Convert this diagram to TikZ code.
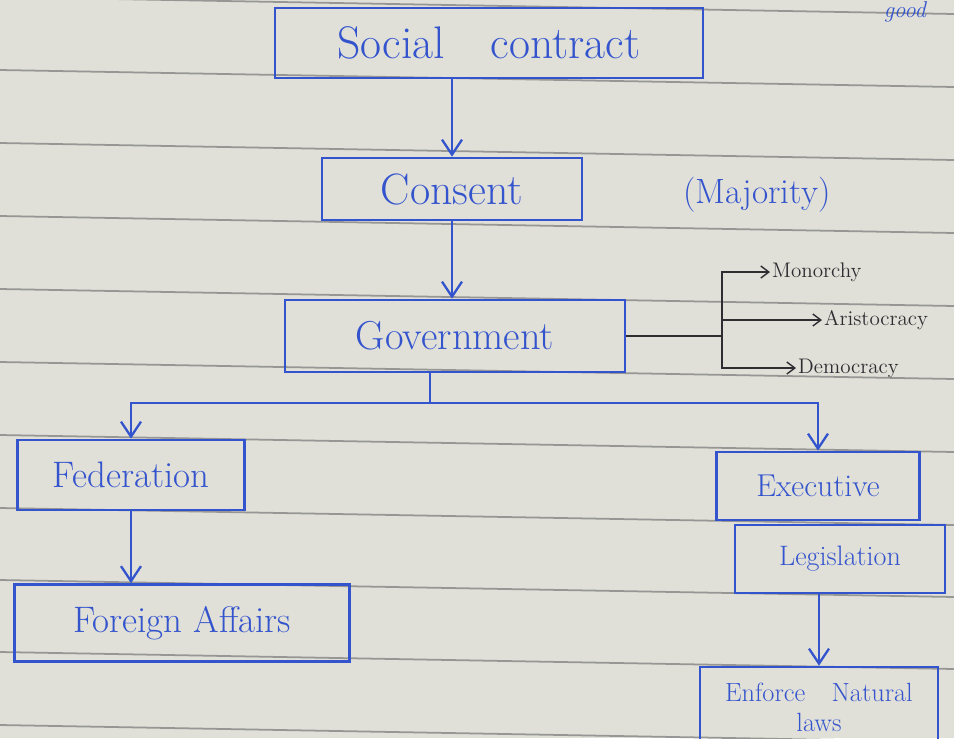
\documentclass[tikz,border=0pt]{standalone}
\usetikzlibrary{arrows.meta}
\definecolor{ink}{RGB}{52,84,205}
\definecolor{paper}{RGB}{224,224,216}
\definecolor{rule}{RGB}{150,150,148}
\definecolor{pencil}{RGB}{45,45,50}
\begin{document}
\begin{tikzpicture}[x=0.02cm,y=-0.02cm,
  box/.style={draw=ink,line width=1.5pt,text=ink,inner sep=2pt},
  arr/.style={draw=ink,line width=1.3pt,-{Straight Barb[length=3mm,width=4mm]}},
  branch/.style={draw=pencil,line width=0.8pt,-{Straight Barb[length=1.6mm,width=2.4mm]}},
  kind/.style={text=pencil,anchor=west,inner sep=1pt,font=\fontsize{12}{14}\selectfont}
  ]
    \clip (0,0) rectangle (954,738);
    \fill[paper] (0,0) rectangle (954,738);
    % ruled lines of the page
    \foreach \y in {-3,70,143,216,289,362,435,508,580,652,725}
        \draw[rule,line width=1pt] (0,\y) -- (954,\y+17);
    \node[text=ink,font=\fontsize{13}{15}\itshape] (good) at (905,12) {good};

    \node[box,minimum width=8.56cm,minimum height=1.4cm,font=\fontsize{26}{30}\selectfont] (social) at (489,43) {Social\quad contract};
    \node[box,minimum width=5.2cm,minimum height=1.24cm,font=\fontsize{25}{30}\selectfont] (consent) at (452,189) {Consent};
    \node[text=ink,font=\fontsize{20}{24}\selectfont] (majority) at (757,195) {(Majority)};
    \node[box,minimum width=6.8cm,minimum height=1.44cm,font=\fontsize{23}{28}\selectfont] (gov) at (455,336) {Government};

    \node[kind] (mon) at (770,272) {Monorchy};
    \node[kind] (aris) at (822,320) {Aristocracy};
    \node[kind] (demo) at (796,368) {Democracy};

    \node[box,minimum width=4.54cm,minimum height=1.4cm,font=\fontsize{21}{25}\selectfont] (fed) at (131,475) {Federation};
    \node[box,minimum width=6.7cm,minimum height=1.54cm,font=\fontsize{21}{25}\selectfont] (foreign) at (182,623) {Foreign Affairs};
    \node[box,minimum width=4.06cm,minimum height=1.36cm,font=\fontsize{18}{22}\selectfont] (exec) at (818,486) {Executive};
    \node[box,minimum width=4.2cm,minimum height=1.36cm,font=\fontsize{16}{19}\selectfont] (legis) at (840,559) {Legislation};
    \node[box,minimum width=4.76cm,minimum height=1.6cm,align=center,font=\fontsize{15}{17}\selectfont] (enforce) at (819,707) {Enforce\quad Natural\\laws};

    \coordinate (split) at (722,336);
    \coordinate (fork) at (430,403);

    \draw[arr] (social.south -| consent.north) -- (consent.north);
    \draw[arr] (consent.south) -- (consent.south |- gov.north);
    \draw[draw=pencil,line width=0.8pt] (gov.east) -- (split);
    \draw[branch] (split) |- (mon.west);
    \draw[branch] (split) |- (aris.west);
    \draw[branch] (split) |- (demo.west);
    \draw[ink,line width=1.3pt] (gov.south -| fork) -- (fork);
    \draw[arr] (fork) -| (fed.north);
    \draw[arr] (fork) -| (exec.north);
    \draw[arr] (fed.south) -- (fed.south |- foreign.north);
    \draw[arr] (legis.south -| enforce.north) -- (enforce.north);
\end{tikzpicture}
\end{document}
